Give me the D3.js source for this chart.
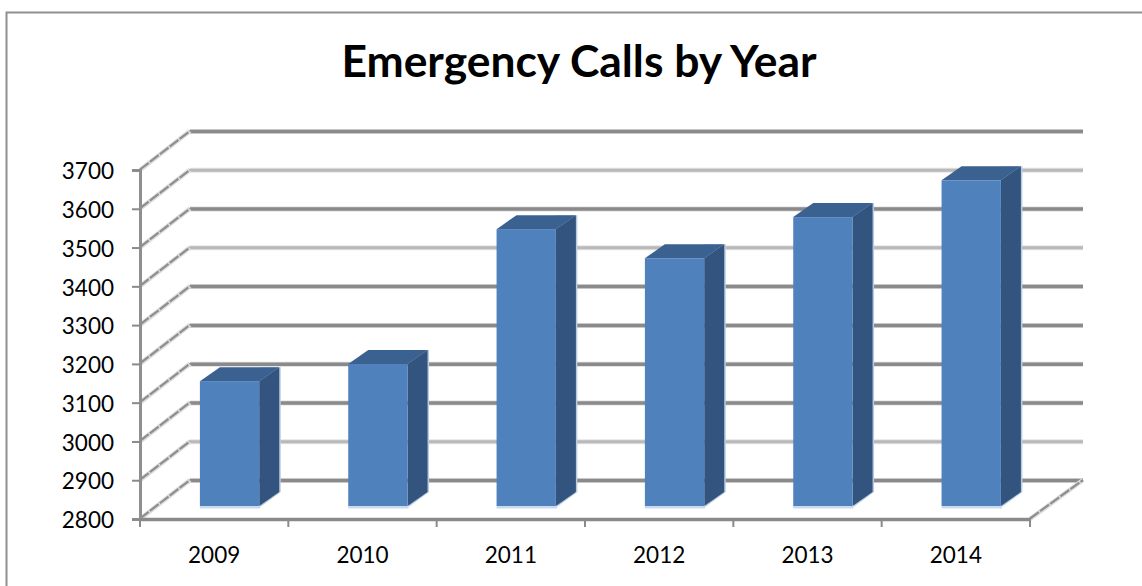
<!DOCTYPE html>
<html>
<head lang="en">
    <meta charset="UTF-8">
    <title>Emergency Calls by Year</title>
    <script src="https://d3js.org/d3.v7.min.js" charset="utf-8"></script>
    <style type="text/css">
        html, body { margin: 0; padding: 0; background: #fff; }
        svg { display: block; }
        text { font-family: Lato, "Open Sans", sans-serif; fill: #000; }
    </style>
</head>
<body>

<svg id="svg" width="1142" height="586"></svg>

<script>
    var chartTitle = "Emergency Calls by Year";
    var years = ["2009", "2010", "2011", "2012", "2013", "2014"];
    var calls = [3122, 3166, 3514, 3439, 3545, 3640];
    var yTicks = [2800, 2900, 3000, 3100, 3200, 3300, 3400, 3500, 3600, 3700];
    // these gridlines came out thin and pale in the original
    var paleTicks = [3600, 3400, 2900];

    var svg = d3.select("svg");

    var left = 140, right = 1030, bottom = 519, top_ = 170;
    var wallDx = 50, wallDy = -39;   // floor depth
    var barShiftX = 15.4, barShiftY = -13;  // where the bars stand on the floor
    var barDx = 20, barDy = -14;     // depth of a bar

    var y = d3.scaleLinear().domain([2800, 3700]).range([bottom, top_]);
    var x = d3.scaleBand().domain(years).range([left, right]).paddingInner(0.6).paddingOuter(0.3);

    // chart frame, open at the right and the bottom
    svg.append("path")
        .attr("d", "M6.5,586V12.5H1142")
        .attr("fill", "none")
        .attr("stroke", "#8f8f8f")
        .attr("stroke-width", 2);

    svg.append("text")
        .attr("x", 579)
        .attr("y", 77)
        .attr("text-anchor", "middle")
        .attr("font-size", 44.4)
        .attr("font-weight", 700)
        .text(chartTitle);

    function diagonal(x1, y1, x2, y2) {
        grid.append("line")
            .attr("x1", x1).attr("x2", x2)
            .attr("y1", y1).attr("y2", y2)
            .attr("stroke", "#dcdcdc")
            .attr("stroke-width", 4.5);
        grid.append("line")
            .attr("x1", x1).attr("x2", x2)
            .attr("y1", y1 - 0.5).attr("y2", y2)
            .attr("stroke", "#8e8e8e")
            .attr("stroke-width", 2.2)
            .attr("stroke-dasharray", "11 1.5");
    }

    // back wall gridlines and side wall diagonals
    var grid = svg.append("g");
    yTicks.forEach(function (t) {
        var pale = paleTicks.indexOf(t) >= 0;
        var yFront = y(t), yBack = yFront + wallDy;

        grid.append("line")
            .attr("x1", left + wallDx).attr("x2", right + wallDx + 3)
            .attr("y1", yBack + 0.5).attr("y2", yBack + 0.5)
            .attr("stroke", pale ? "#e4e4e4" : "#dcdcdc")
            .attr("stroke-width", 5);
        grid.append("line")
            .attr("x1", left + wallDx).attr("x2", right + wallDx + 3)
            .attr("y1", yBack + 0.5).attr("y2", yBack + 0.5)
            .attr("stroke", pale ? "#b9b9b9" : "#8a8a8a")
            .attr("stroke-width", pale ? 3 : 3.5);

        diagonal(left, yFront, left + wallDx, yBack);
    });

    // floor: right side diagonal
    diagonal(right, bottom, right + wallDx + 3, bottom + wallDy);

    // axes
    var yAxis = d3.axisLeft(y).tickValues(yTicks).tickSize(8).tickPadding(18).tickFormat(d3.format("d"));
    var xAxis = d3.axisBottom(x).tickSize(0).tickPadding(28);

    var yg = svg.append("g").attr("transform", "translate(" + left + ",0)").call(yAxis);
    var xg = svg.append("g").attr("transform", "translate(0," + bottom + ")").call(xAxis);

    yg.selectAll("text").attr("font-size", 22.5).attr("y", 1.5);
    xg.selectAll("text").attr("font-size", 22.5);
    yg.selectAll("line").attr("stroke", "#8a8a8a").attr("stroke-width", 2);
    yg.select(".domain").attr("stroke", "#8f8f8f").attr("stroke-width", 3);
    xg.select(".domain").attr("stroke", "#8a8a8a").attr("stroke-width", 3.5);

    // ticks between the categories
    xg.selectAll(".sep")
        .data(d3.range(years.length + 1))
        .enter().append("line")
        .attr("class", "sep")
        .attr("x1", function (i) { return left + i * x.step(); })
        .attr("x2", function (i) { return left + i * x.step(); })
        .attr("y1", 0).attr("y2", 8)
        .attr("stroke", "#8a8a8a")
        .attr("stroke-width", 2);

    // bars
    var bars = svg.append("g").selectAll("g")
        .data(years.map(function (d, i) { return { year: d, value: calls[i] }; }))
        .enter().append("g")
        .attr("transform", function (d) {
            return "translate(" + (x(d.year) + barShiftX) + "," + barShiftY + ")";
        });
    var w = x.bandwidth();

    // pale edge round the side of the bar
    bars.append("path")
        .attr("d", function (d) {
            var t = y(d.value), b = y(2800);
            return "M" + (w + 1) + "," + (b + 1) + "L" + (w + barDx + 1.5) + "," + (b + barDy) +
                "V" + (t + barDy) + "H" + w + "Z";
        })
        .attr("fill", "#b9cbe0");
    // bottom edge under the front face
    bars.append("rect")
        .attr("x", 0).attr("width", w + 1)
        .attr("y", y(2800)).attr("height", 2.5)
        .attr("fill", "#c9daee");
    // side
    bars.append("path")
        .attr("d", function (d) {
            var t = y(d.value), b = y(2800);
            return "M" + w + "," + t + "L" + (w + barDx) + "," + (t + barDy) +
                "V" + (b + barDy) + "L" + w + "," + b + "Z";
        })
        .attr("fill", "#32547e");
    // top
    bars.append("path")
        .attr("d", function (d) {
            var t = y(d.value);
            return "M0," + t + "L" + barDx + "," + (t + barDy) + "H" + (w + barDx) + "L" + w + "," + t + "Z";
        })
        .attr("fill", "#3a6190");
    // front
    bars.append("rect")
        .attr("x", 0).attr("width", w)
        .attr("y", function (d) { return y(d.value); })
        .attr("height", function (d) { return y(2800) - y(d.value); })
        .attr("fill", "#4f81bd");
</script>

</body>
</html>
